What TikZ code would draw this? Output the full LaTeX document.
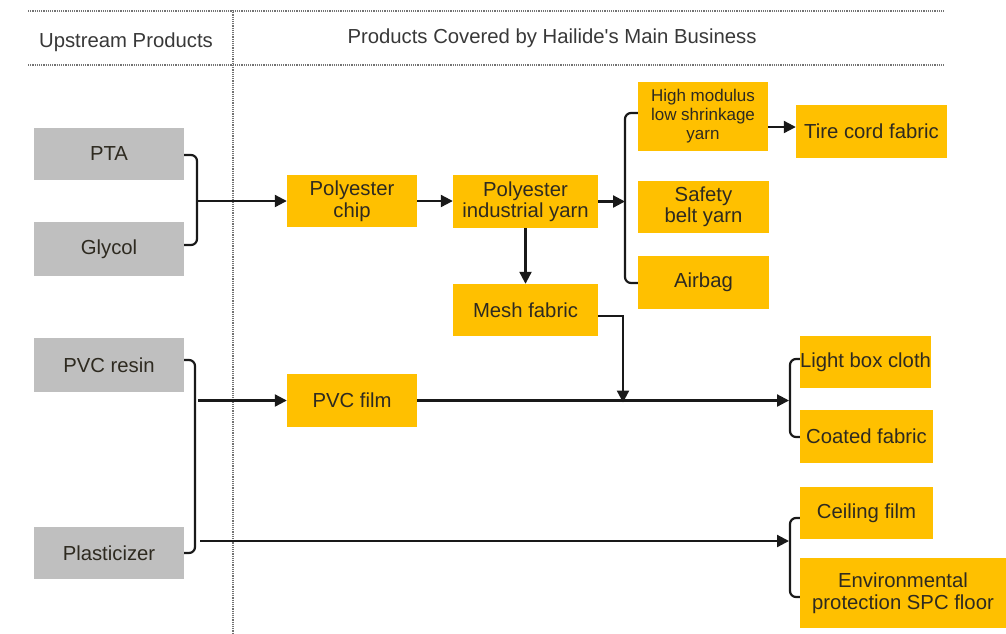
\documentclass[tikz,border=0pt]{standalone}
\usepackage{fontspec}
\setmainfont{Liberation Sans}
\usetikzlibrary{arrows.meta}
\definecolor{boxyellow}{HTML}{FFC000}
\definecolor{boxgrey}{HTML}{BFBFBF}
\definecolor{txt}{HTML}{2E2A20}
\definecolor{hdr}{HTML}{383838}
\begin{document}
\begin{tikzpicture}[x=1pt,y=-1pt,
  base/.style={inner sep=0pt, align=center, text=txt, font=\fontsize{20.3}{21.5}\selectfont},
  gbox/.style={base, fill=boxgrey},
  ybox/.style={base, fill=boxyellow},
  hdrtext/.style={text=hdr, font=\fontsize{20.3}{21.5}\selectfont, inner sep=0pt},
  sep/.style={densely dotted, line width=1.2pt, draw=black!55},
  conn/.style={line width=2.2pt, draw=black!90, rounded corners=6pt},
  arr/.style={line width=2.2pt, draw=black!90, -{Triangle[length=12pt,width=12pt]}}
]
\useasboundingbox (0,0) rectangle (1006,633);

% separators
\draw[sep] (28,11) -- (945,11);
\draw[sep] (28,65) -- (945,65);
\draw[sep] (233,10) -- (233,633);

% headers
\node[hdrtext] (h1) at (126,42) {Upstream Products};
\node[hdrtext] (h2) at (552,38) {Products Covered by Hailide\textquotesingle s Main Business};

% grey boxes
\node[gbox, minimum width=150pt, minimum height=52pt] (pta) at (109,154) {PTA};
\node[gbox, minimum width=150pt, minimum height=54pt] (gly) at (109,249) {Glycol};
\node[gbox, minimum width=150pt, minimum height=54pt] (pvcr) at (109,365) {PVC resin};
\node[gbox, minimum width=150pt, minimum height=52pt] (plas) at (109,553) {Plasticizer};

% yellow boxes
\node[ybox, minimum width=130pt, minimum height=52pt] (chip) at (352,201) {Polyester\\chip};
\node[ybox, minimum width=145pt, minimum height=53pt] (yarn) at (525.5,201.5) {Polyester\\industrial yarn};
\node[ybox, minimum width=130pt, minimum height=69pt, font=\fontsize{17}{19}\selectfont] (hm) at (703,116.5) {High modulus\\low shrinkage\\yarn};
\node[ybox, minimum width=151pt, minimum height=53pt] (tire) at (871.5,131.5) {Tire cord fabric};
\node[ybox, minimum width=131pt, minimum height=52pt] (belt) at (703.5,207) {Safety\\belt yarn};
\node[ybox, minimum width=131pt, minimum height=53pt] (airbag) at (703.5,282.5) {Airbag};
\node[ybox, minimum width=145pt, minimum height=52pt] (mesh) at (525.5,310) {Mesh fabric};
\node[ybox, minimum width=130pt, minimum height=53pt] (pvcf) at (352,400.5) {PVC film};
\node[ybox, minimum width=131pt, minimum height=52pt] (light) at (865.5,362) {Light box cloth};
\node[ybox, minimum width=133pt, minimum height=53pt] (coated) at (866.5,436.5) {Coated fabric};
\node[ybox, minimum width=133pt, minimum height=52pt] (ceil) at (866.5,513) {Ceiling film};
\node[ybox, minimum width=206pt, minimum height=70pt] (env) at (903,593) {Environmental\\protection SPC floor};

% coordinates
\coordinate (b1) at (197,201);
\coordinate (b4) at (198,400.5);
\coordinate (b5) at (200,541);
\coordinate (b2) at (625,201.5);
\coordinate (j) at (623,400.5);
\coordinate (b3) at (789,400.5);
\coordinate (b6) at (789,541);

% brace PTA/Glycol
\draw[conn] (pta.east |- 0,155) -- (197,155) -- (197,245) -- (gly.east |- 0,245);
\draw[arr] (b1) -- (chip.west);
\draw[arr] (chip.east) -- (chip.east -| yarn.west);
\draw[arr] (yarn.east) -- (b2);
% brace right of yarn
\draw[conn] (hm.west |- 0,113) -- (625,113) -- (625,283) -- (airbag.west |- 0,283);
\draw[arr] ([yshift=-10.5pt]hm.east) -- ([yshift=-10.5pt]hm.east -| tire.west);
\draw[arr] (yarn.south) -- (mesh.north);
\draw[arr, rounded corners=0pt] ([yshift=-6pt]mesh.east) -| ([yshift=-2pt]j);

% PVC brace
\draw[conn] (pvcr.east |- 0,360) -- (195,360) -- (195,553) -- (plas.east |- 0,553);
\draw[arr] (b4) -- (pvcf.west);
\draw[arr] (pvcf.east) -- (b3);
\draw[arr] (b5) -- (b6);

% right braces
\draw[conn] (light.west |- 0,359) -- (790,359) -- (790,437) -- (coated.west |- 0,437);
\draw[conn] (ceil.west |- 0,518) -- (790,518) -- (790,597) -- (env.west |- 0,597);
\end{tikzpicture}
\end{document}
